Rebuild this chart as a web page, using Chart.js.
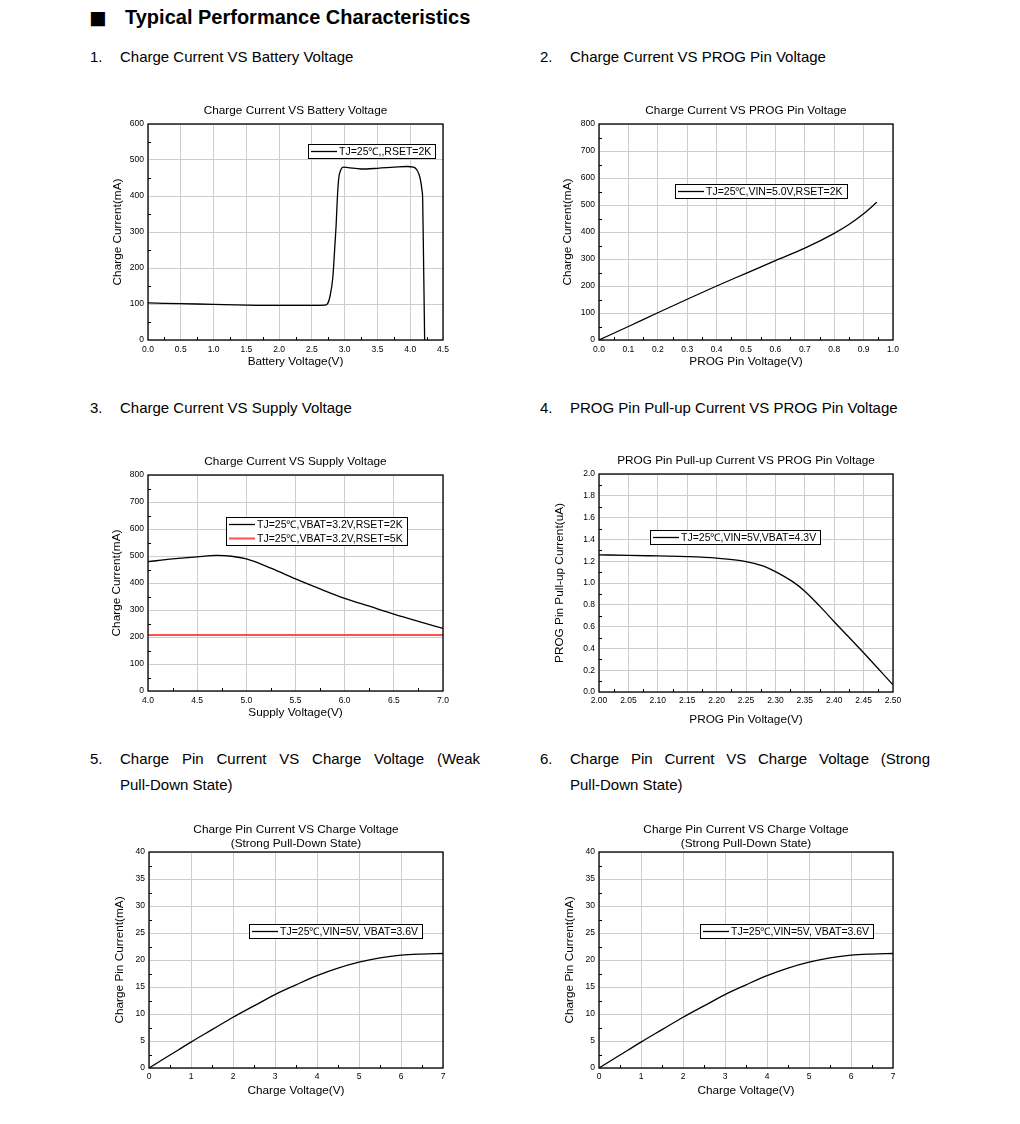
<!DOCTYPE html>
<html>
<head>
<meta charset="utf-8">
<script src="https://cdn.jsdelivr.net/npm/chart.js@4.4.0/dist/chart.umd.min.js"></script>
<style>
  body { margin: 0; width: 1020px; height: 1124px; background: #fff; position: relative; overflow: hidden;
         font-family: "Liberation Sans", Arial, Helvetica, sans-serif; color: #000; }
  .t { position: absolute; white-space: nowrap; font-size: 15px; line-height: 26px; }
  .j { position: absolute; width: 360px; font-size: 15px; line-height: 26px; text-align: justify; }
  .nb { white-space: nowrap; }
  canvas { display: block; }
</style>
</head>
<body>
<div class="t" style="left:89px;top:3px;font-size:29px;line-height:30px;">■</div>
<div class="t" style="left:125px;top:4px;font-size:20px;font-weight:bold;">Typical Performance Characteristics</div>

<div class="t" style="left:90px;top:44px;">1.</div>
<div class="t" style="left:120px;top:44px;">Charge Current VS Battery Voltage</div>
<div class="t" style="left:540px;top:44px;">2.</div>
<div class="t" style="left:570px;top:44px;">Charge Current VS PROG Pin Voltage</div>

<div class="t" style="left:90px;top:395px;">3.</div>
<div class="t" style="left:120px;top:395px;">Charge Current VS Supply Voltage</div>
<div class="t" style="left:540px;top:395px;">4.</div>
<div class="t" style="left:570px;top:395px;">PROG Pin Pull-up Current VS PROG Pin Voltage</div>

<div class="t" style="left:90px;top:746px;">5.</div>
<div class="j" style="left:120px;top:746px;">Charge Pin Current VS Charge Voltage (Weak <span class="nb">Pull-Down</span> State)</div>
<div class="t" style="left:540px;top:746px;">6.</div>
<div class="j" style="left:570px;top:746px;">Charge Pin Current VS Charge Voltage (Strong <span class="nb">Pull-Down</span> State)</div>

<script>
// 1. charge current vs battery voltage
const batVoltage = [0, 0.5, 1.0, 1.5, 2.0, 2.5, 2.7, 2.74, 2.78, 2.82, 2.85, 2.87, 2.89, 2.91, 2.94, 2.98, 3.05, 3.25, 3.5, 3.75, 3.95, 4.05, 4.1, 4.15, 4.18, 4.19, 4.205, 4.22];
const batCurrent = [103, 101, 99, 97, 96, 96, 97, 101, 125, 175, 260, 320, 400, 450, 472, 480, 479, 475, 477, 480, 482, 480, 473, 450, 415, 390, 200, 0];
const batXTicks = ['0.0', '0.5', '1.0', '1.5', '2.0', '2.5', '3.0', '3.5', '4.0', '4.5'];
const batYTicks = ['0', '100', '200', '300', '400', '500', '600'];

// 2. charge current vs PROG pin voltage
const progVoltage = [0, 0.1, 0.2, 0.3, 0.4, 0.5, 0.6, 0.7, 0.8, 0.85, 0.9, 0.945];
const progCurrent = [0, 50, 101, 151, 200, 247, 294, 340, 395, 428, 468, 510];
const progXTicks = ['0.0', '0.1', '0.2', '0.3', '0.4', '0.5', '0.6', '0.7', '0.8', '0.9', '1.0'];
const currentYTicks = ['0', '100', '200', '300', '400', '500', '600', '700', '800'];

// 3. charge current vs supply voltage
const supplyVoltage = [4.0, 4.25, 4.5, 4.7, 4.85, 5.0, 5.25, 5.5, 5.75, 6.0, 6.25, 6.5, 6.75, 7.0];
const supplyCurrent2K = [479, 489, 497, 502, 499, 489, 455, 415, 378, 343, 314, 285, 258, 232];
const supplyCurrent5K = [207, 207, 207, 207, 207, 207, 207, 207, 207, 207, 207, 207, 207, 207];
const supplyXTicks = ['4.0', '4.5', '5.0', '5.5', '6.0', '6.5', '7.0'];

// 4. PROG pin pull-up current vs PROG pin voltage
const pullupVoltage = [2.00, 2.05, 2.10, 2.15, 2.20, 2.25, 2.28, 2.30, 2.33, 2.35, 2.375, 2.40, 2.45, 2.50];
const pullupCurrent = [1.258, 1.254, 1.248, 1.242, 1.228, 1.197, 1.155, 1.105, 1.01, 0.925, 0.79, 0.645, 0.36, 0.065];
const pullupXTicks = ['2.00', '2.05', '2.10', '2.15', '2.20', '2.25', '2.30', '2.35', '2.40', '2.45', '2.50'];
const pullupYTicks = ['0.0', '0.2', '0.4', '0.6', '0.8', '1.0', '1.2', '1.4', '1.6', '1.8', '2.0'];

// 5/6. charge pin current vs charge voltage
const chgVoltage = [0, 0.5, 1, 1.5, 2, 2.5, 3, 3.5, 4, 4.5, 5, 5.5, 6, 6.5, 7];
const chgPinCurrent = [0, 2.4, 4.8, 7.1, 9.4, 11.5, 13.6, 15.4, 17.1, 18.5, 19.6, 20.4, 20.9, 21.1, 21.2];
const chgXTicks = ['0', '1', '2', '3', '4', '5', '6', '7'];
const chgYTicks = ['0', '5', '10', '15', '20', '25', '30', '35', '40'];

const FONT = '"Liberation Sans", Arial, Helvetica, sans-serif';
Chart.defaults.font.family = FONT;
Chart.defaults.color = '#000';

// frame round the plot and small inside ticks between the major ones
const axisDeco = {
    id: 'axisDeco',
    afterDatasetsDraw(chart) {
        const { ctx, chartArea: a, scales: { x, y } } = chart;
        ctx.save();
        ctx.strokeStyle = '#000';
        ctx.lineWidth = 1;
        ctx.beginPath();
        const xt = x.ticks.map(t => t.value);
        const yt = y.ticks.map(t => t.value);
        for (let i = 0; i < xt.length - 1; i++) {
            const px = Math.round(x.getPixelForValue((xt[i] + xt[i + 1]) / 2)) + 0.5;
            ctx.moveTo(px, a.bottom);
            ctx.lineTo(px, a.bottom - 3);
        }
        for (let i = 0; i < yt.length - 1; i++) {
            const py = Math.round(y.getPixelForValue((yt[i] + yt[i + 1]) / 2)) + 0.5;
            ctx.moveTo(a.left, py);
            ctx.lineTo(a.left + 3, py);
        }
        ctx.stroke();
        ctx.lineWidth = 1.3;
        ctx.strokeRect(a.left, a.top, a.right - a.left, a.bottom - a.top);
        ctx.restore();
    }
};

// boxed legend placed inside the plot
const boxLegend = {
    id: 'boxLegend',
    afterDraw(chart, args, opts) {
        const { ctx, chartArea: a } = chart;
        const sets = chart.data.datasets;
        ctx.save();
        ctx.font = '10.5px ' + FONT;
        const tw = Math.max(...sets.map(d => ctx.measureText(d.label).width));
        const x = Math.round(a.left + opts.x), y = Math.round(a.top + opts.y);
        const w = Math.round(3 + opts.sample + 3 + tw + 3), h = sets.length * 14;
        ctx.fillStyle = '#fff';
        ctx.fillRect(x, y, w, h);
        ctx.strokeStyle = '#000';
        ctx.lineWidth = 1;
        ctx.strokeRect(x + 0.5, y + 0.5, w, h);
        sets.forEach((d, i) => {
            const cy = y + 7.5 + i * 14;
            ctx.strokeStyle = d.borderColor;
            ctx.lineWidth = d.borderWidth;
            ctx.beginPath();
            ctx.moveTo(x + 3, cy);
            ctx.lineTo(x + 3 + opts.sample, cy);
            ctx.stroke();
            ctx.fillStyle = '#000';
            ctx.textBaseline = 'middle';
            ctx.fillText(d.label, x + 5 + opts.sample, cy + 0.5);
        });
        ctx.restore();
    }
};

function tickScale(labels, gridColor) {
    const vals = labels.map(Number);
    return {
        type: 'linear',
        min: vals[0],
        max: vals[vals.length - 1],
        afterBuildTicks: s => { s.ticks = vals.map(v => ({ value: v })); },
        ticks: { callback: (v, i) => labels[i], autoSkip: false, maxRotation: 0, font: { size: 8.5 }, color: '#000' },
        grid: { color: gridColor, lineWidth: 1, drawTicks: false },
        border: { display: false }
    };
}

function makeChart(spec) {
    const [L, T, R, B] = spec.box;
    const yW = 48, padR = 17, xH = 40;
    const tH = spec.title.length > 1 ? 40 : 26;
    const canvas = document.createElement('canvas');
    canvas.width = R - L + yW + padR;
    canvas.height = B - T + tH + xH;
    canvas.style.cssText = `position:absolute;left:${L - yW}px;top:${T - tH}px;`;
    document.body.appendChild(canvas);

    const tSize = 11.8;
    const tLH = spec.title.length > 1 ? 1.16 : 1.2;
    const tGap = spec.title.length > 1 ? 8.7 : 13;
    const tPadBottom = tGap - tSize * tLH / 2;
    const tPadTop = tH - spec.title.length * tSize * tLH - tPadBottom;

    const xScale = tickScale(spec.xTicks, '#cdcdcd');
    xScale.ticks.padding = spec.xTickPad;
    xScale.title = { display: true, text: spec.xTitle, font: { size: tSize, lineHeight: 1.2 },
                     padding: { top: 0, bottom: xH - spec.xTitleGap - tSize * 0.6 } };
    xScale.afterFit = s => { s.height = xH; };

    const yScale = tickScale(spec.yTicks, '#cdcdcd');
    yScale.ticks.padding = 4;
    yScale.title = { display: true, text: spec.yTitle, font: { size: tSize, lineHeight: 1.2 },
                     padding: { top: yW - spec.yTitleGap - tSize * 0.6, bottom: 0 } };
    yScale.afterFit = s => { s.width = yW; };

    new Chart(canvas.getContext('2d'), {
        type: 'line',
        data: {
            datasets: spec.series.map(s => ({
                label: s.label,
                data: s.xs.map((x, i) => ({ x, y: s.ys[i] })),
                borderColor: s.color,
                borderWidth: s.width,
                pointRadius: 0,
                cubicInterpolationMode: 'monotone',
                fill: false
            }))
        },
        options: {
            responsive: false,
            animation: false,
            devicePixelRatio: 1,
            layout: { padding: { left: 0, top: 0, right: padR, bottom: 0 } },
            scales: { x: xScale, y: yScale },
            plugins: {
                legend: { display: false },
                tooltip: { enabled: false },
                title: {
                    display: true,
                    text: spec.title,
                    fullSize: false,
                    color: '#000',
                    font: { size: tSize, weight: 'normal', lineHeight: tLH },
                    padding: { top: tPadTop, bottom: tPadBottom }
                },
                boxLegend: { x: spec.legendAt[0], y: spec.legendAt[1], sample: 26 }
            }
        },
        plugins: [axisDeco, boxLegend]
    });
}

makeChart({
    box: [148, 124, 443, 340],
    title: ['Charge Current VS Battery Voltage'],
    xTitle: 'Battery Voltage(V)', yTitle: 'Charge Current(mA)',
    xTicks: batXTicks, yTicks: batYTicks,
    xTickPad: 5, xTitleGap: 21.7, yTitleGap: 30.5,
    legendAt: [160, 20],
    series: [{ label: 'TJ=25℃,,RSET=2K', xs: batVoltage, ys: batCurrent, color: '#000', width: 1.3 }]
});

makeChart({
    box: [599, 124, 893, 340],
    title: ['Charge Current VS PROG Pin Voltage'],
    xTitle: 'PROG Pin Voltage(V)', yTitle: 'Charge Current(mA)',
    xTicks: progXTicks, yTicks: currentYTicks,
    xTickPad: 5, xTitleGap: 21.7, yTitleGap: 31.5,
    legendAt: [76, 60],
    series: [{ label: 'TJ=25℃,VIN=5.0V,RSET=2K', xs: progVoltage, ys: progCurrent, color: '#000', width: 1.3 }]
});

makeChart({
    box: [148, 475, 443, 691],
    title: ['Charge Current VS Supply Voltage'],
    xTitle: 'Supply Voltage(V)', yTitle: 'Charge Current(mA)',
    xTicks: supplyXTicks, yTicks: currentYTicks,
    xTickPad: 5, xTitleGap: 22, yTitleGap: 31.3,
    legendAt: [78, 42],
    series: [
        { label: 'TJ=25℃,VBAT=3.2V,RSET=2K', xs: supplyVoltage, ys: supplyCurrent2K, color: '#000', width: 1.3 },
        { label: 'TJ=25℃,VBAT=3.2V,RSET=5K', xs: supplyVoltage, ys: supplyCurrent5K, color: '#ff4f4f', width: 2 }
    ]
});

makeChart({
    box: [599, 474, 893, 692],
    title: ['PROG Pin Pull-up Current VS PROG Pin Voltage'],
    xTitle: 'PROG Pin Voltage(V)', yTitle: 'PROG Pin Pull-up Current(uA)',
    xTicks: pullupXTicks, yTicks: pullupYTicks,
    xTickPad: 4, xTitleGap: 28, yTitleGap: 39,
    legendAt: [51, 56],
    series: [{ label: 'TJ=25℃,VIN=5V,VBAT=4.3V', xs: pullupVoltage, ys: pullupCurrent, color: '#000', width: 1.3 }]
});

makeChart({
    box: [149, 852, 443, 1068],
    title: ['Charge Pin Current VS Charge Voltage', '(Strong Pull-Down State)'],
    xTitle: 'Charge Voltage(V)', yTitle: 'Charge Pin Current(mA)',
    xTicks: chgXTicks, yTicks: chgYTicks,
    xTickPad: 4, xTitleGap: 23, yTitleGap: 29,
    legendAt: [100, 72],
    series: [{ label: 'TJ=25℃,VIN=5V, VBAT=3.6V', xs: chgVoltage, ys: chgPinCurrent, color: '#000', width: 1.3 }]
});

makeChart({
    box: [599, 852, 893, 1068],
    title: ['Charge Pin Current VS Charge Voltage', '(Strong Pull-Down State)'],
    xTitle: 'Charge Voltage(V)', yTitle: 'Charge Pin Current(mA)',
    xTicks: chgXTicks, yTicks: chgYTicks,
    xTickPad: 4, xTitleGap: 23, yTitleGap: 29,
    legendAt: [101, 72],
    series: [{ label: 'TJ=25℃,VIN=5V, VBAT=3.6V', xs: chgVoltage, ys: chgPinCurrent, color: '#000', width: 1.3 }]
});
</script>
</body>
</html>
